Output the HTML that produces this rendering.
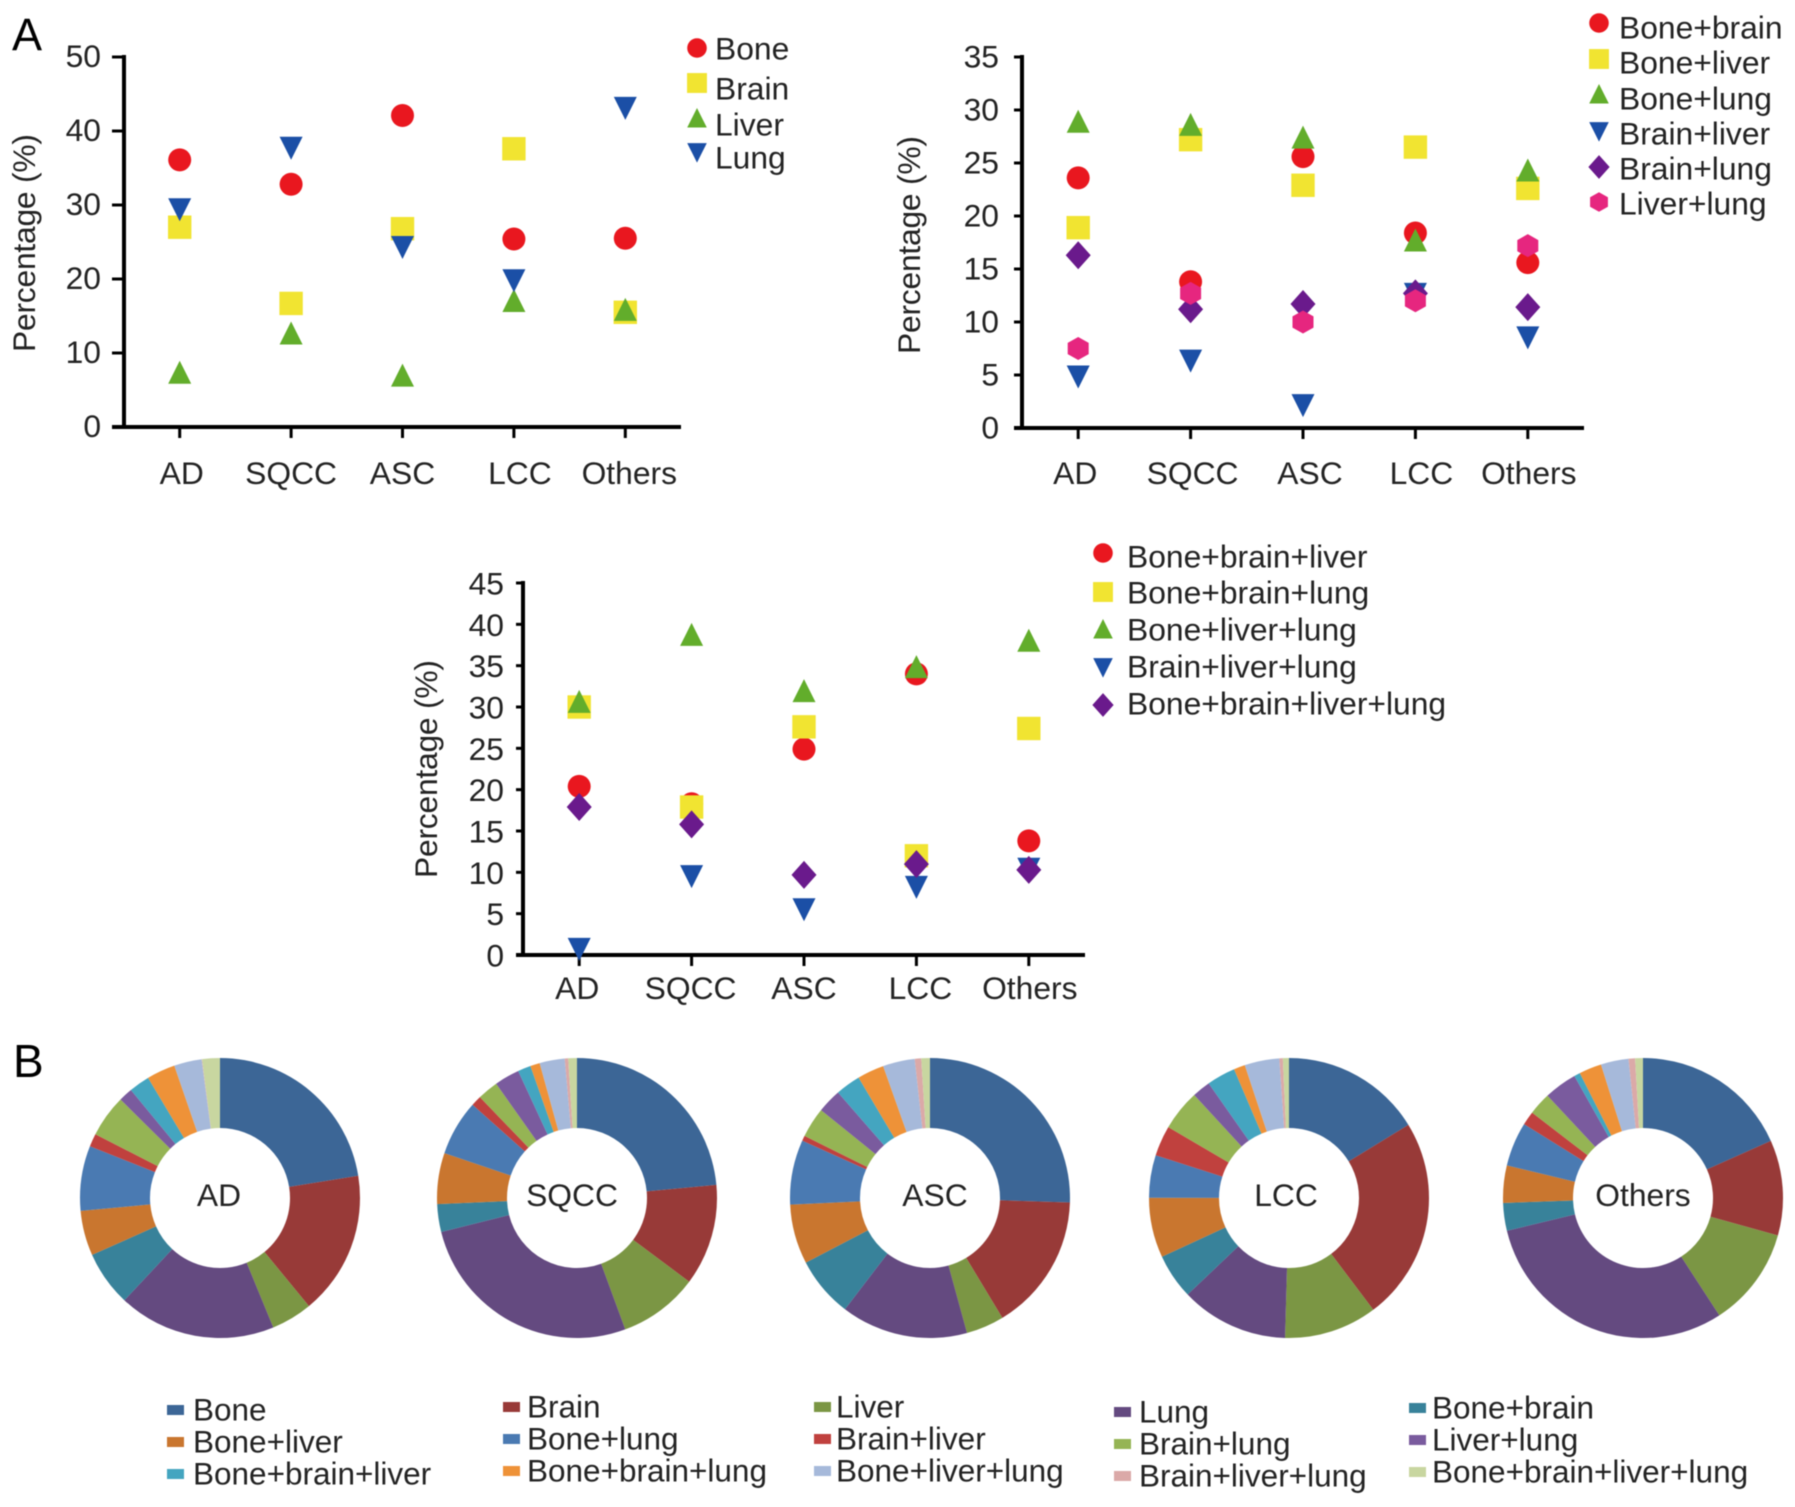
<!DOCTYPE html>
<html lang="en">
<head>
<meta charset="utf-8">
<title>Metastasis patterns by histology</title>
<style>
html,body{margin:0;padding:0;background:#fff;}
#figure{display:block;width:1795px;height:1507px;filter:blur(0.5px);}
text{font-family:"Liberation Sans",Arial,sans-serif;fill:#232323;}
</style>
</head>
<body>
<svg id="figure" xmlns="http://www.w3.org/2000/svg" width="1795" height="1507" viewBox="0 0 1795 1507">
  <rect width="1795" height="1507" fill="#ffffff"/>
  <text x="12" y="50" font-size="45" style="fill:#000">A</text>
  <text x="13" y="1077" font-size="46" style="fill:#000">B</text>
</svg>
<script>
// ---------- Panel A data ----------
var categories = ['AD', 'SQCC', 'ASC', 'LCC', 'Others'];

var chart1TickLabels = ['0', '10', '20', '30', '40', '50'];
var chart1Names = ['Bone', 'Brain', 'Liver', 'Lung'];
var bone = [36.1, 32.8, 42.1, 25.4, 25.5];
var brain = [27.0, 16.7, 26.8, 37.6, 15.5];
var liver = [7.2, 12.5, 6.8, 16.9, 15.7];
var lung = [29.5, 37.8, 24.4, 19.9, 43.2];

var chart2TickLabels = ['0', '5', '10', '15', '20', '25', '30', '35'];
var chart2Names = ['Bone+brain', 'Bone+liver', 'Bone+lung', 'Brain+liver', 'Brain+lung', 'Liver+lung'];
var boneBrain = [23.6, 13.8, 25.6, 18.4, 15.6];
var boneLiver = [18.9, 27.2, 22.9, 26.5, 22.6];
var boneLung = [28.8, 28.5, 27.3, 17.6, 24.2];
var brainLiver = [4.9, 6.4, 2.2, 12.7, 8.6];
var brainLung = [16.3, 11.2, 11.7, 12.7, 11.4];
var liverLung = [7.5, 12.7, 10.0, 12.0, 17.2];

var chart3TickLabels = ['0', '5', '10', '15', '20', '25', '30', '35', '40', '45'];
var chart3Names = ['Bone+brain+liver', 'Bone+brain+lung', 'Bone+liver+lung', 'Brain+liver+lung', 'Bone+brain+liver+lung'];
var boneBrainLiver = [20.4, 18.3, 24.9, 34.0, 13.8];
var boneBrainLung = [30.0, 17.9, 27.6, 12.0, 27.4];
var boneLiverLung = [30.5, 38.6, 31.8, 34.7, 37.9];
var brainLiverLung = [0.8, 9.6, 5.6, 8.3, 10.5];
var allFour = [17.9, 15.8, 9.7, 11.0, 10.3];

// ---------- Panel B data (share of patients, %, slices clockwise from top) ----------
var donutSeries = ['Bone', 'Brain', 'Liver', 'Lung', 'Bone+brain', 'Bone+liver', 'Bone+lung', 'Brain+liver', 'Brain+lung', 'Liver+lung', 'Bone+brain+liver', 'Bone+brain+lung', 'Bone+liver+lung', 'Brain+liver+lung', 'Bone+brain+liver+lung'];
var donutAD = [22.5, 16.6, 4.75, 18.2, 6.4, 5.2, 7.5, 1.5, 4.9, 1.6, 2.4, 3.3, 3.2, 0.05, 2.05];
var donutSQCC = [23.5, 11.7, 9.2, 26.7, 3.2, 5.9, 6.4, 1.2, 2.4, 2.9, 1.5, 1.1, 2.9, 0.4, 1.0];
var donutASC = [25.6, 15.9, 4.4, 14.7, 7.0, 6.9, 7.5, 0.6, 3.5, 2.8, 2.9, 3.1, 3.7, 0.75, 1.0];
var donutLCC = [16.2, 23.4, 10.7, 12.4, 5.2, 6.9, 4.9, 3.5, 4.7, 2.1, 3.3, 1.3, 4.0, 0.4, 0.7];
var donutOthers = [18.3, 11.0, 11.5, 30.4, 3.2, 4.3, 5.1, 1.6, 2.6, 3.8, 0.7, 2.6, 3.2, 0.75, 0.9];

// ---------- Styles ----------
var NS = 'http://www.w3.org/2000/svg';
var svg = document.getElementById('figure');
var scatterStyles = [
  {shape: 'circle', color: '#e9171f'},
  {shape: 'square', color: '#f1e431'},
  {shape: 'up', color: '#62ad2b'},
  {shape: 'down', color: '#1b4fa6'},
  {shape: 'diamond', color: '#6a1a8c'},
  {shape: 'hexagon', color: '#e6267f'}
];
var donutColors = ['#3c6696', '#983a38', '#7b9644', '#644a80', '#38829a', '#c9762f', '#4a7ab2', '#c0413e', '#95b454', '#7a5b9e', '#44a5c0', '#ee9238', '#a6b9da', '#dba9a8', '#c8d6a0'];

function slug(s) {
  return s.toLowerCase().replace(/\+/g, '-');
}
function make(tag, attrs, parent) {
  var el = document.createElementNS(NS, tag);
  for (var k in attrs) el.setAttribute(k, attrs[k]);
  parent.appendChild(el);
  return el;
}
function markerShape(parent, shape, color, cx, cy, s) {
  var el;
  if (shape === 'circle') {
    el = make('circle', {cx: cx, cy: cy, r: 11.5 * s, fill: color}, parent);
  } else if (shape === 'square') {
    el = make('rect', {x: cx - 11.7 * s, y: cy - 11.7 * s, width: 23.4 * s, height: 23.4 * s, fill: color}, parent);
  } else {
    var pts;
    if (shape === 'up') pts = [[0, -13], [11.5, 10], [-11.5, 10]];
    if (shape === 'down') pts = [[-11.5, -10.5], [11.5, -10.5], [0, 12.5]];
    if (shape === 'diamond') pts = [[0, -14], [12.5, 0], [0, 14], [-12.5, 0]];
    if (shape === 'hexagon') pts = [[0, -11.5], [10.5, -5.6], [10.5, 5.6], [0, 11.5], [-10.5, 5.6], [-10.5, -5.6]];
    var str = pts.map(function (p) { return (cx + p[0] * s) + ',' + (cy + p[1] * s); }).join(' ');
    el = make('polygon', {points: str, fill: color}, parent);
  }
  return el;
}

// ---------- Scatter charts ----------
function drawScatter(cfg) {
  var g = make('g', {}, svg);
  
  

  var ticks = cfg.tickLabels.map(Number);
  var maxV = ticks[ticks.length - 1];
  function yScale(v) { return cfg.y0 + (cfg.yTop - cfg.y0) * v / maxV; }
  var band = (cfg.x1 - cfg.x0) / categories.length;
  function xScale(i) { return cfg.x0 + band * (i + 0.5); }

  var yAxis = make('line', {x1: cfg.x0, x2: cfg.x0, y1: cfg.yTop - 2, y2: cfg.y0 + 2, stroke: '#000', 'stroke-width': 4}, g);
  
  
  var xAxis = make('line', {x1: cfg.x0 - cfg.tickLen, x2: cfg.x1, y1: cfg.y0, y2: cfg.y0, stroke: '#000', 'stroke-width': 4}, g);
  
  

  ticks.forEach(function (v, i) {
    var y = yScale(v);
    var t = make('line', {x1: cfg.x0 - cfg.tickLen, x2: cfg.x0, y1: y, y2: y, stroke: '#000', 'stroke-width': 3}, g);
    
    
    var lab = make('text', {x: cfg.tickRight, y: y + cfg.tickDy, 'font-size': cfg.fontSize, 'text-anchor': 'end'}, g);
    lab.textContent = cfg.tickLabels[i];
    
    
  });

  categories.forEach(function (c, i) {
    var x = xScale(i);
    var t = make('line', {x1: x, x2: x, y1: cfg.y0, y2: cfg.y0 + 11, stroke: '#000', 'stroke-width': 3}, g);
    
    
    var lab = make('text', {x: x + cfg.catNudge[i], y: cfg.catY, 'font-size': cfg.fontSize, 'text-anchor': 'middle'}, g);
    lab.textContent = c;
    
    
  });

  var title = make('text', {transform: 'translate(' + cfg.titleX + ',' + cfg.titleY + ') rotate(-90)', 'text-anchor': 'middle', 'font-size': cfg.fontSize, textLength: 218, lengthAdjust: 'spacing'}, g);
  title.textContent = 'Percentage (%)';
  
  

  cfg.series.forEach(function (vals, si) {
    var st = scatterStyles[si];
    vals.forEach(function (v, i) {
      var m = markerShape(g, st.shape, st.color, xScale(i), yScale(v), 1);
      
      
    });
  });

  cfg.names.forEach(function (n, si) {
    var st = scatterStyles[si];
    var m = markerShape(g, st.shape, st.color, cfg.legendX, cfg.legendY[si], 0.85);
    
    
    var t = make('text', {x: cfg.legendTextX, y: cfg.legendTextY[si] + 10.5, 'font-size': cfg.fontSize}, g);
    t.textContent = n;
    
    
  });
}

drawScatter({
  name: 'single-site-chart', tickLabels: chart1TickLabels, names: chart1Names,
  series: [bone, brain, liver, lung],
  x0: 124, x1: 681, y0: 427, yTop: 57, tickLen: 12, tickRight: 101, tickDy: 10, fontSize: 31.8,
  catY: 484, catNudge: [2, 0, 0, 6, 4], titleX: 35, titleY: 243,
  legendX: 697, legendY: [48, 83, 119, 152], legendTextX: 715, legendTextY: [49, 89, 125, 158]
});
drawScatter({
  name: 'two-site-chart', tickLabels: chart2TickLabels, names: chart2Names,
  series: [boneBrain, boneLiver, boneLung, brainLiver, brainLung, liverLung],
  x0: 1022, x1: 1584, y0: 428, yTop: 57, tickLen: 8, tickRight: 999, tickDy: 10.5, fontSize: 31.8,
  catY: 484, catNudge: [-3, 2, 7, 6, 1], titleX: 920, titleY: 245,
  legendX: 1599, legendY: [23, 59, 95, 131, 167, 202], legendTextX: 1619, legendTextY: [28, 63, 99, 134, 169, 204]
});
drawScatter({
  name: 'three-plus-site-chart', tickLabels: chart3TickLabels, names: chart3Names,
  series: [boneBrainLiver, boneBrainLung, boneLiverLung, brainLiverLung, allFour],
  x0: 523, x1: 1085, y0: 955, yTop: 583, tickLen: 7, tickRight: 504, tickDy: 11.5, fontSize: 31.8,
  catY: 999, catNudge: [-2, -1, 0, 4, 1], titleX: 437, titleY: 769,
  legendX: 1103, legendY: [553, 592, 630, 667, 705], legendTextX: 1127, legendTextY: [557, 593, 630, 667, 704]
});

// ---------- Donuts ----------
var donutY = 1198, donutR = 140, donutInner = 70;
function polar(cx, cy, r, a) {
  return [cx + r * Math.sin(a), cy - r * Math.cos(a)];
}
function drawDonut(label, values, cx, labelX) {
  var g = make('g', {}, svg);
  
  
  var total = values.reduce(function (a, b) { return a + b; }, 0);
  var acc = 0;
  values.forEach(function (v, i) {
    var a0 = acc / total * 2 * Math.PI;
    acc += v;
    var a1 = acc / total * 2 * Math.PI;
    var large = (a1 - a0) > Math.PI ? 1 : 0;
    var p0 = polar(cx, donutY, donutR, a0), p1 = polar(cx, donutY, donutR, a1);
    var q1 = polar(cx, donutY, donutInner, a1), q0 = polar(cx, donutY, donutInner, a0);
    var d = 'M' + p0[0] + ' ' + p0[1] + 'A' + donutR + ' ' + donutR + ' 0 ' + large + ' 1 ' + p1[0] + ' ' + p1[1] +
            'L' + q1[0] + ' ' + q1[1] + 'A' + donutInner + ' ' + donutInner + ' 0 ' + large + ' 0 ' + q0[0] + ' ' + q0[1] + 'Z';
    var s = make('path', {d: d, fill: donutColors[i]}, g);
    
    
  });
  var t = make('text', {x: labelX, y: 1206, 'font-size': 31.8, 'text-anchor': 'middle'}, g);
  t.textContent = label;
  
  
}
drawDonut('AD', donutAD, 220, 219);
drawDonut('SQCC', donutSQCC, 577, 572);
drawDonut('ASC', donutASC, 930, 935);
drawDonut('LCC', donutLCC, 1289, 1286);
drawDonut('Others', donutOthers, 1643, 1643);

// ---------- Donut legend: five columns, three rows, filled down each column ----------
var legendColumns = [
  {swatch: 167, text: 193, y: 1410},
  {swatch: 503, text: 527, y: 1407},
  {swatch: 814, text: 836, y: 1407},
  {swatch: 1114, text: 1139, y: 1412},
  {swatch: 1409, text: 1432, y: 1408}
];
var legendGroup = make('g', {}, svg);


donutSeries.forEach(function (n, i) {
  var col = legendColumns[i % 5];
  var row = Math.floor(i / 5);
  var cy = col.y + row * 32;
  var r = make('rect', {x: col.swatch, y: cy - 5, width: 17, height: 10, fill: donutColors[i]}, legendGroup);
  
  
  var t = make('text', {x: col.text, y: cy + 10.5, 'font-size': 31.5}, legendGroup);
  t.textContent = n;
  
  
});
</script>
</body>
</html>
